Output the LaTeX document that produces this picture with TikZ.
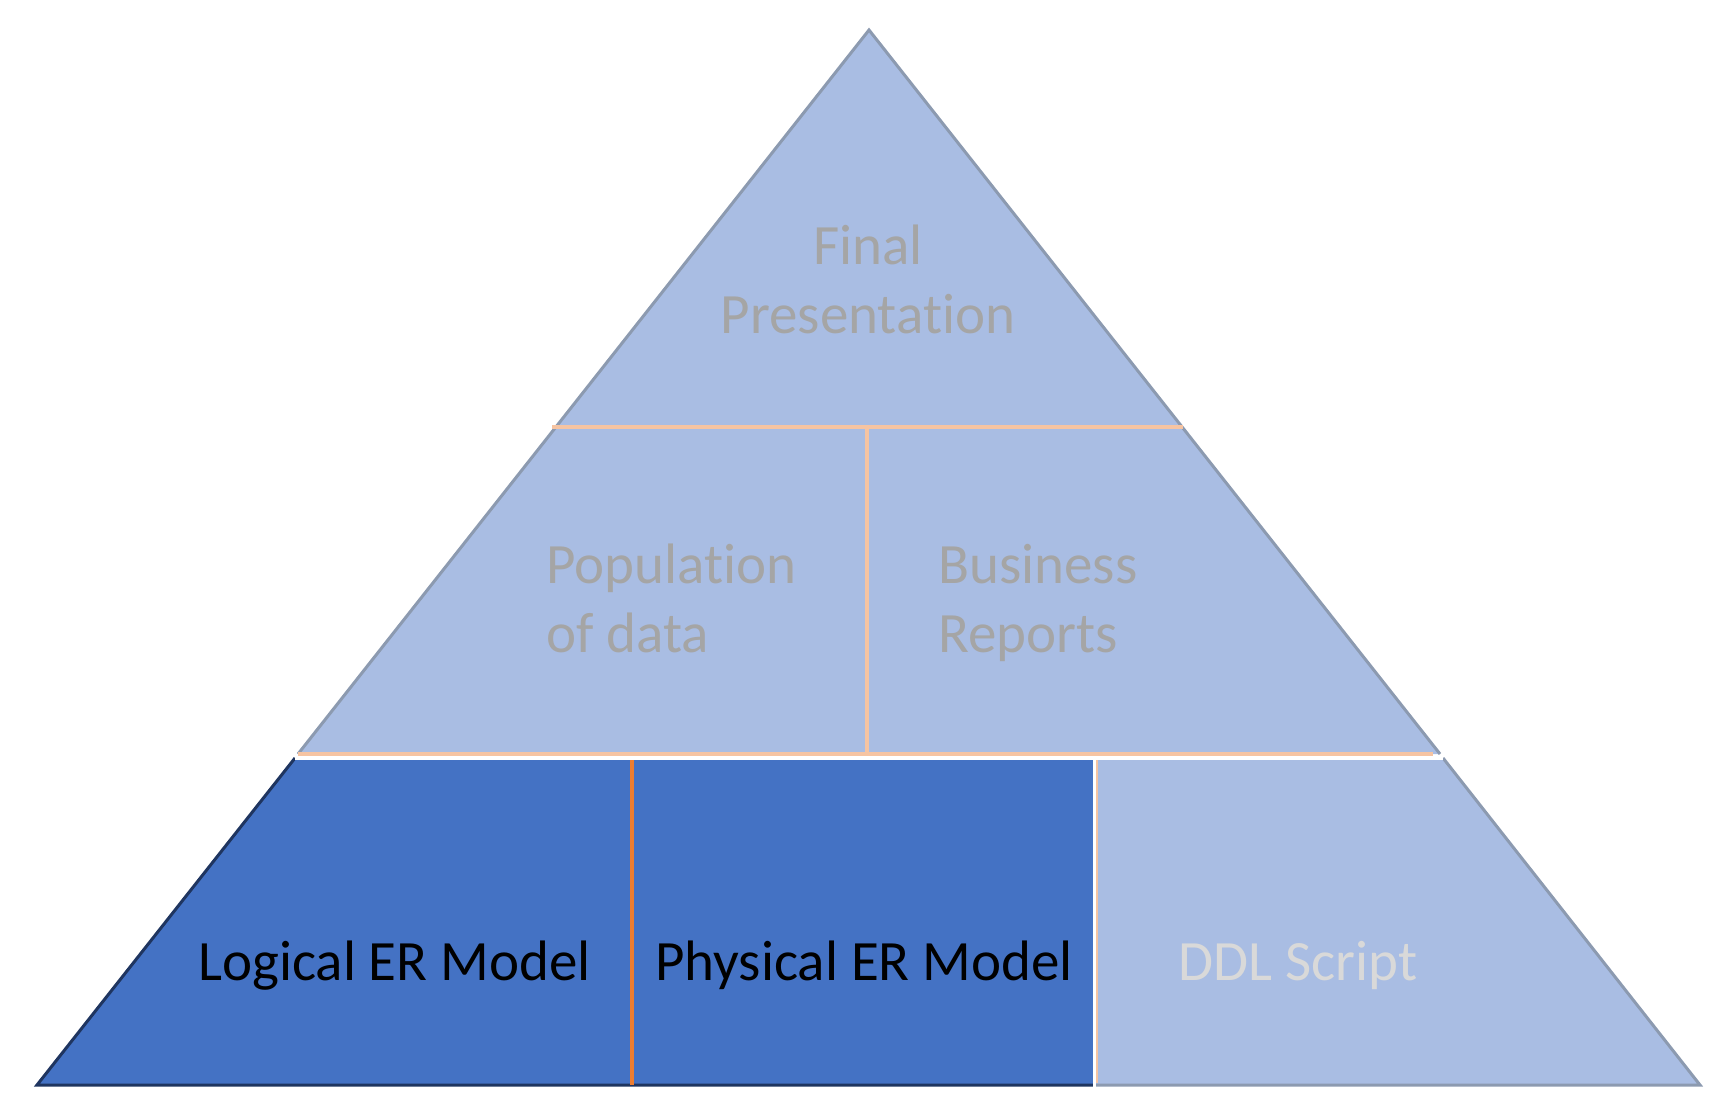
\documentclass[tikz,border=0pt]{standalone}
\usepackage{fontspec}
\setmainfont{Carlito}[Ligatures=NoCommon]
\definecolor{lightblue}{HTML}{A9BDE3}
\definecolor{darkblue}{HTML}{4472C4}
\definecolor{edgegray}{HTML}{8C9AB0}
\definecolor{navy}{HTML}{1F3560}
\definecolor{peach}{HTML}{F6C4A2}
\definecolor{orangeline}{HTML}{ED7D31}
\definecolor{txtgray}{HTML}{A5A5A5}
\definecolor{txtlight}{HTML}{D9D9D9}
\tikzset{
  lightpart/.style={fill=lightblue},
  darkpart/.style={fill=darkblue},
  grayedge/.style={draw=edgegray,line width=3pt,line join=miter},
  navyedge/.style={draw=navy,line width=3pt},
  peachline/.style={draw=peach,line width=3.5pt},
  label/.style={inner sep=0pt,font=\fontsize{57}{69}\selectfont,align=left},
}
\begin{document}
\begin{tikzpicture}[x=1pt,y=-1pt]
\useasboundingbox (0,0) rectangle (1715,1102);
% top triangle + middle band
\fill[lightpart] (869,30) -- (298,754) -- (1440,754) -- cycle;
% bottom right light part
\fill[lightpart] (1094,758) -- (1443,758) -- (1700,1085) -- (1094,1085) -- cycle;
% bottom dark part
\fill[darkpart] (295,758) -- (1094,758) -- (1094,1085) -- (37,1085) -- cycle;
% outlines
\draw[grayedge] (298,754) -- (869,30) -- (1440,754);
\draw[grayedge] (1443,758) -- (1700,1085) -- (1094,1085);
\draw[navyedge] (295,758) -- (37,1085) -- (1094,1085);
% separator lines
\draw[peachline] (552,427) -- (1183,427);
\draw[peachline] (867,427) -- (867,754);
\draw[peachline] (298,754) -- (1433,754);
\draw[white,line width=2.5pt] (295,758.5) -- (1443,758.5);
\draw[orangeline,line width=3.5pt] (632,760) -- (632,1085);
\draw[white,line width=3pt] (1094,758) -- (1094,1087);
\draw[peach,line width=1.2pt] (1097,760) -- (1097,1083);
% labels
\node[label,text=txtgray,align=center,anchor=base] (fp) at (868,333) {Final\\Presentation};
\node[label,text=txtgray,anchor=base west] (pod) at (546,652) {Population\\of data};
\node[label,text=txtgray,anchor=base west] (br) at (938,652) {Business\\Reports};
\node[label,text=black,anchor=base west] (ler) at (198,980) {Logical ER Model};
\node[label,text=black,anchor=base west] (per) at (655,980) {Physical ER Model};
\node[label,text=txtlight,anchor=base west] (ddl) at (1178,980) {DDL Script};
\end{tikzpicture}
\end{document}
